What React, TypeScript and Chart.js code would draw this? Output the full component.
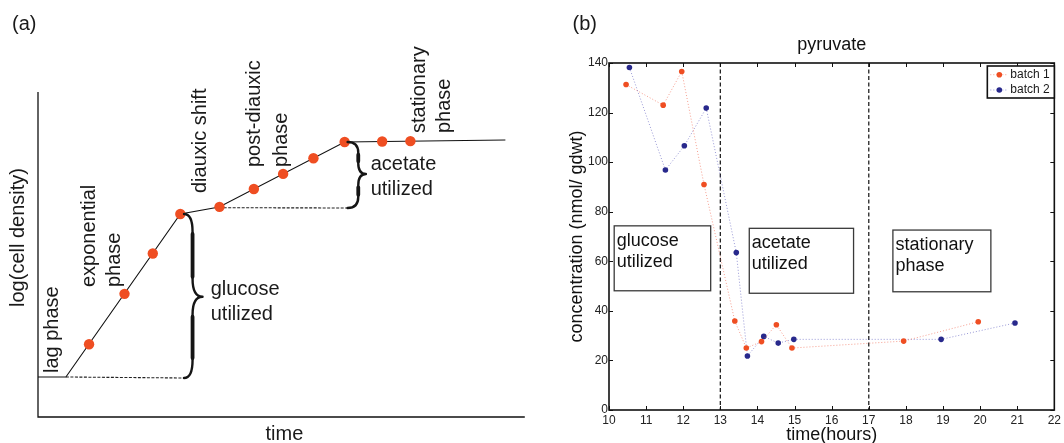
import React, { useEffect, useRef } from "react";
import { Chart, registerables } from "chart.js";

Chart.register(...registerables);

const FONT = "'Liberation Sans', Arial, Helvetica, sans-serif";

// ---------------- Panel (a): schematic growth curve (arbitrary units 0..100) ----------------
const growthCurveTime = [0, 5.73, 29.24, 37.22, 62.99, 96.01];
const growthCurveLogDensity = [12.31, 12.31, 62.46, 64.62, 84.62, 85.23];
const sampleTime = [10.49, 17.77, 23.58, 29.24, 37.28, 44.34, 50.35, 56.58, 62.99, 70.7, 76.5];
const sampleLogDensity = [22.4, 37.9, 50.3, 62.46, 64.66, 70.15, 74.8, 79.6, 84.62, 84.76, 84.87];
const glucoseGuideTime = [5.73, 30.0];
const glucoseGuideLogDensity = [12.31, 12.0];
const acetateGuideTime = [37.22, 63.8];
const acetateGuideLogDensity = [64.4, 64.31];

const phaseLabels = ["lag phase", "exponential", "phase", "diauxic shift", "post-diauxic", "phase", "stationary", "phase"];
const phaseLabelAnchors = [
  { t: 3.03, n: 13.54 },
  { t: 10.49, n: 40.0 },
  { t: 15.68, n: 40.0 },
  { t: 33.33, n: 68.92 },
  { t: 44.54, n: 76.92 },
  { t: 49.94, n: 76.92 },
  { t: 78.36, n: 87.38 },
  { t: 83.56, n: 87.38 },
];
const braceLabels = [["glucose", "utilized"], ["acetate", "utilized"]];
const braceLabelAnchors = [
  { t: 35.48, n1: 37.54, n2: 29.85 },
  { t: 68.34, n1: 76.0, n2: 68.31 },
];
const braces = [
  { t0: 30.0, tSpine: 31.75, tTip: 33.8, nTop: 62.46, nTip: 37.0, nBot: 12.0 },
  { t0: 63.6, tSpine: 65.79, tTip: 67.36, nTop: 84.62, nTip: 74.77, nBot: 64.31 },
];

// ---------------- Panel (b): pyruvate ----------------
const batch1Hours = [10.46, 11.46, 11.96, 12.56, 13.39, 13.7, 14.11, 14.51, 14.93, 17.94, 19.95];
const batch1Pyruvate = [131.3, 123.0, 136.6, 91.0, 35.9, 25.0, 27.6, 34.4, 25.0, 27.8, 35.6];
const batch2Hours = [10.55, 11.52, 12.03, 12.62, 13.43, 13.73, 14.17, 14.56, 14.98, 18.95, 20.94];
const batch2Pyruvate = [138.2, 96.8, 106.6, 121.8, 63.5, 21.8, 29.7, 27.0, 28.5, 28.5, 35.1];
const seriesNames = ["batch 1", "batch 2"];
const hourTicks = [10, 11, 12, 13, 14, 15, 16, 17, 18, 19, 20, 21, 22];
const concTicks = [0, 20, 40, 60, 80, 100, 120, 140];
const phaseBoundaryHours = [13, 17];
const phaseBoxText = [["glucose", "utilized"], ["acetate", "utilized"], ["stationary", "phase"]];
const phaseBoxHours = [[10.14, 12.74], [13.78, 16.59], [17.65, 20.29]];
const phaseBoxConc = [[74.3, 48.1], [73.3, 47.1], [72.6, 47.7]];

const ORANGE = "#ef4e22";
const BLUE = "#28298c";
const ORANGE_LINE = "rgba(240,95,70,0.6)";
const BLUE_LINE = "rgba(70,70,180,0.55)";

function drawBrace(ctx: CanvasRenderingContext2D, x0: number, xs: number, xt: number, yT: number, yM: number, yB: number) {
  const r1 = Math.min(18, (yM - yT) / 3);
  const r2 = Math.min(18, (yB - yM) / 3);
  ctx.lineCap = "round";
  ctx.lineJoin = "round";
  ctx.lineWidth = 2.4;
  ctx.beginPath();
  ctx.moveTo(x0, yT);
  ctx.quadraticCurveTo(xs, yT, xs, yT + r1);
  ctx.lineTo(xs, yM - r1);
  ctx.quadraticCurveTo(xs, yM, xt, yM);
  ctx.quadraticCurveTo(xs, yM, xs, yM + r2);
  ctx.lineTo(xs, yB - r2);
  ctx.quadraticCurveTo(xs, yB, x0, yB);
  ctx.stroke();
  // thicker straight spine parts
  ctx.lineWidth = 3.8;
  ctx.beginPath();
  ctx.moveTo(xs, yT + r1 + 2);
  ctx.lineTo(xs, yM - r1 - 2);
  ctx.moveTo(xs, yM + r2 + 2);
  ctx.lineTo(xs, yB - r2 - 2);
  ctx.stroke();
}

const schematicPlugin = {
  id: "schematicDecor",
  afterDraw(chart: any) {
    const { ctx, chartArea: ca, scales } = chart;
    const sx = (v: number) => scales.x.getPixelForValue(v);
    const sy = (v: number) => scales.y.getPixelForValue(v);
    ctx.save();
    // axes
    ctx.strokeStyle = "#111";
    ctx.lineWidth = 1.3;
    ctx.beginPath();
    ctx.moveTo(ca.left, ca.top);
    ctx.lineTo(ca.left, ca.bottom);
    ctx.lineTo(ca.right, ca.bottom);
    ctx.stroke();
    // braces
    ctx.strokeStyle = "#151515";
    braces.forEach((b) =>
      drawBrace(ctx, sx(b.t0), sx(b.tSpine), sx(b.tTip), sy(b.nTop), sy(b.nTip), sy(b.nBot))
    );
    // rotated phase labels
    ctx.fillStyle = "#1a1a1a";
    ctx.font = `20px ${FONT}`;
    phaseLabels.forEach((txt, i) => {
      const a = phaseLabelAnchors[i];
      ctx.save();
      ctx.translate(sx(a.t), sy(a.n));
      ctx.rotate(-Math.PI / 2);
      ctx.textAlign = "left";
      ctx.textBaseline = "middle";
      ctx.fillText(txt, 0, 0);
      ctx.restore();
    });
    // brace labels
    ctx.textAlign = "left";
    ctx.textBaseline = "alphabetic";
    braceLabels.forEach((lines, i) => {
      const a = braceLabelAnchors[i];
      ctx.fillText(lines[0], sx(a.t), sy(a.n1));
      ctx.fillText(lines[1], sx(a.t), sy(a.n2));
    });
    // axis titles
    ctx.textAlign = "center";
    ctx.fillText("time", (ca.left + ca.right) / 2 + 3, ca.bottom + 23);
    ctx.save();
    ctx.translate(ca.left - 19.7, 237.5);
    ctx.rotate(-Math.PI / 2);
    ctx.textBaseline = "middle";
    ctx.fillText("log(cell density)", 0, 0);
    ctx.restore();
    // panel letter
    ctx.textAlign = "left";
    ctx.textBaseline = "alphabetic";
    ctx.fillText("(a)", 12, 30);
    ctx.restore();
  },
};

function schematicConfig(): any {
  return {
    type: "scatter",
    data: {
      datasets: [
        {
          label: "samples",
          data: sampleTime.map((t, i) => ({ x: t, y: sampleLogDensity[i] })),
          showLine: false,
          pointRadius: 5.2,
          pointBackgroundColor: ORANGE,
          pointBorderWidth: 0,
        },
        {
          label: "curve",
          data: growthCurveTime.map((t, i) => ({ x: t, y: growthCurveLogDensity[i] })),
          showLine: true,
          pointRadius: 0,
          borderColor: "#111",
          borderWidth: 1.1,
        },
        {
          label: "glucose guide",
          data: glucoseGuideTime.map((t, i) => ({ x: t, y: glucoseGuideLogDensity[i] })),
          showLine: true,
          pointRadius: 0,
          borderColor: "#222",
          borderWidth: 1.1,
          borderDash: [3, 1.5],
        },
        {
          label: "acetate guide",
          data: acetateGuideTime.map((t, i) => ({ x: t, y: acetateGuideLogDensity[i] })),
          showLine: true,
          pointRadius: 0,
          borderColor: "#222",
          borderWidth: 1.1,
          borderDash: [3, 1.5],
        },
      ],
    },
    options: {
      responsive: false,
      animation: false,
      events: [],
      layout: { padding: { left: 38, right: 3, top: 92, bottom: 26 } },
      plugins: { legend: { display: false }, tooltip: { enabled: false }, title: { display: false } },
      scales: {
        x: { type: "linear", display: false, min: 0, max: 100 },
        y: { type: "linear", display: false, min: 0, max: 100 },
      },
    },
    plugins: [schematicPlugin],
  };
}

const pyruvatePlugin = {
  id: "pyruvateDecor",
  beforeDatasetsDraw(chart: any) {
    const { ctx, chartArea: ca, scales } = chart;
    const sx = (v: number) => scales.x.getPixelForValue(v);
    const sy = (v: number) => scales.y.getPixelForValue(v);
    ctx.save();
    // phase boundaries
    ctx.strokeStyle = "#222";
    ctx.lineWidth = 1.3;
    ctx.setLineDash([4, 2.5]);
    phaseBoundaryHours.forEach((h) => {
      ctx.beginPath();
      ctx.moveTo(sx(h), ca.top);
      ctx.lineTo(sx(h), ca.bottom);
      ctx.stroke();
    });
    ctx.setLineDash([]);
    // phase boxes
    ctx.strokeStyle = "#3a3a3a";
    ctx.lineWidth = 1.3;
    ctx.fillStyle = "#111";
    ctx.font = `18px ${FONT}`;
    ctx.textAlign = "left";
    ctx.textBaseline = "alphabetic";
    phaseBoxText.forEach((lines, i) => {
      const x1 = sx(phaseBoxHours[i][0]);
      const x2 = sx(phaseBoxHours[i][1]);
      const y1 = sy(phaseBoxConc[i][0]);
      const y2 = sy(phaseBoxConc[i][1]);
      ctx.strokeRect(x1, y1, x2 - x1, y2 - y1);
      ctx.fillText(lines[0], x1 + 2.5, y1 + 20);
      ctx.fillText(lines[1], x1 + 2.5, y1 + 41);
    });
    ctx.restore();
  },
  afterDraw(chart: any) {
    const { ctx, chartArea: ca, scales } = chart;
    const sx = (v: number) => scales.x.getPixelForValue(v);
    const sy = (v: number) => scales.y.getPixelForValue(v);
    ctx.save();
    // inward ticks on all four sides
    ctx.strokeStyle = "#111";
    ctx.lineWidth = 1;
    const tl = 4;
    ctx.beginPath();
    hourTicks.forEach((h) => {
      const x = Math.round(sx(h)) + 0.5;
      ctx.moveTo(x, ca.bottom);
      ctx.lineTo(x, ca.bottom - tl);
      ctx.moveTo(x, ca.top);
      ctx.lineTo(x, ca.top + tl);
    });
    concTicks.forEach((c) => {
      const y = Math.round(sy(c)) + 0.5;
      ctx.moveTo(ca.left, y);
      ctx.lineTo(ca.left + tl, y);
      ctx.moveTo(ca.right, y);
      ctx.lineTo(ca.right - tl, y);
    });
    ctx.stroke();
    // frame
    ctx.lineWidth = 1.6;
    ctx.strokeRect(ca.left, ca.top, ca.right - ca.left, ca.bottom - ca.top);
    // legend
    const lw = 67;
    const lh = 32;
    const lx = ca.right - lw;
    const ly = ca.top + 3;
    ctx.fillStyle = "#fff";
    ctx.fillRect(lx, ly, lw, lh);
    ctx.lineWidth = 1.6;
    ctx.strokeStyle = "#111";
    ctx.strokeRect(lx, ly, lw, lh);
    const colors = [ORANGE, BLUE];
    const lineColors = [ORANGE_LINE, BLUE_LINE];
    ctx.font = `12px ${FONT}`;
    ctx.textAlign = "left";
    ctx.textBaseline = "middle";
    seriesNames.forEach((name, i) => {
      const yy = ly + 8.7 + i * 15.3;
      ctx.strokeStyle = lineColors[i];
      ctx.lineWidth = 1;
      ctx.setLineDash([1, 2]);
      ctx.beginPath();
      ctx.moveTo(lx + 3, yy);
      ctx.lineTo(lx + 20, yy);
      ctx.stroke();
      ctx.setLineDash([]);
      ctx.fillStyle = colors[i];
      ctx.beginPath();
      ctx.arc(lx + 12, yy, 2.8, 0, Math.PI * 2);
      ctx.fill();
      ctx.fillStyle = "#1a1a1a";
      ctx.fillText(name, lx + 23, yy);
    });
    // panel letter
    ctx.fillStyle = "#1a1a1a";
    ctx.font = `20px ${FONT}`;
    ctx.textBaseline = "alphabetic";
    ctx.fillText("(b)", 42.5, 30);
    ctx.restore();
  },
};

function pyruvateConfig(): any {
  const series = [
    { hours: batch1Hours, conc: batch1Pyruvate, color: ORANGE, line: ORANGE_LINE },
    { hours: batch2Hours, conc: batch2Pyruvate, color: BLUE, line: BLUE_LINE },
  ];
  return {
    type: "scatter",
    data: {
      datasets: series.map((s, k) => ({
        label: seriesNames[k],
        data: s.hours.map((h, i) => ({ x: h, y: s.conc[i] })),
        showLine: true,
        borderColor: s.line,
        borderWidth: 1,
        borderDash: [1, 2],
        pointRadius: 2.8,
        pointBackgroundColor: s.color,
        pointBorderWidth: 0,
      })),
    },
    options: {
      responsive: false,
      animation: false,
      events: [],
      layout: { padding: { left: 0, right: 6, top: 0, bottom: 0 } },
      plugins: {
        legend: { display: false },
        tooltip: { enabled: false },
        title: {
          display: true,
          text: "pyruvate",
          fullSize: false,
          color: "#111",
          font: { family: FONT, size: 18, weight: "normal", lineHeight: 1.2 },
          padding: { top: 34.2, bottom: 7.2 },
        },
      },
      scales: {
        x: {
          type: "linear",
          min: 10,
          max: 22,
          afterBuildTicks: (s: any) => {
            s.ticks = hourTicks.map((v) => ({ value: v }));
          },
          afterFit: (s: any) => {
            s.height = 33;
          },
          grid: { display: false, drawTicks: false },
          border: { display: false },
          ticks: { padding: 3, autoSkip: false, maxRotation: 0, color: "#222", font: { family: FONT, size: 12 } },
          title: {
            display: true,
            text: "time(hours)",
            color: "#111",
            font: { family: FONT, size: 18, weight: "normal", lineHeight: 0.88 },
            padding: 0,
          },
        },
        y: {
          type: "linear",
          min: 0,
          max: 140,
          afterBuildTicks: (s: any) => {
            s.ticks = concTicks.map((v) => ({ value: v }));
          },
          afterFit: (s: any) => {
            s.width = 79;
          },
          grid: { display: false, drawTicks: false },
          border: { display: false },
          ticks: { padding: 1, autoSkip: false, color: "#222", font: { family: FONT, size: 12 } },
          title: {
            display: true,
            text: "concentration (nmol/ gdwt)",
            color: "#111",
            font: { family: FONT, size: 18, weight: "normal", lineHeight: 1.2 },
            padding: { top: 36.2, bottom: 0 },
          },
        },
      },
    },
    plugins: [pyruvatePlugin],
  };
}

export default function App() {
  const aRef = useRef<HTMLCanvasElement>(null);
  const bRef = useRef<HTMLCanvasElement>(null);
  useEffect(() => {
    const ca = new Chart(aRef.current as HTMLCanvasElement, schematicConfig());
    const cb = new Chart(bRef.current as HTMLCanvasElement, pyruvateConfig());
    return () => {
      ca.destroy();
      cb.destroy();
    };
  }, []);
  return (
    <div style={{ position: "absolute", left: 0, top: 0, width: 1064, height: 443, background: "#fff", overflow: "hidden" }}>
      <canvas ref={aRef} width={530} height={443} style={{ position: "absolute", left: 0, top: 0 }} />
      <canvas ref={bRef} width={534} height={443} style={{ position: "absolute", left: 530, top: 0 }} />
    </div>
  );
}
